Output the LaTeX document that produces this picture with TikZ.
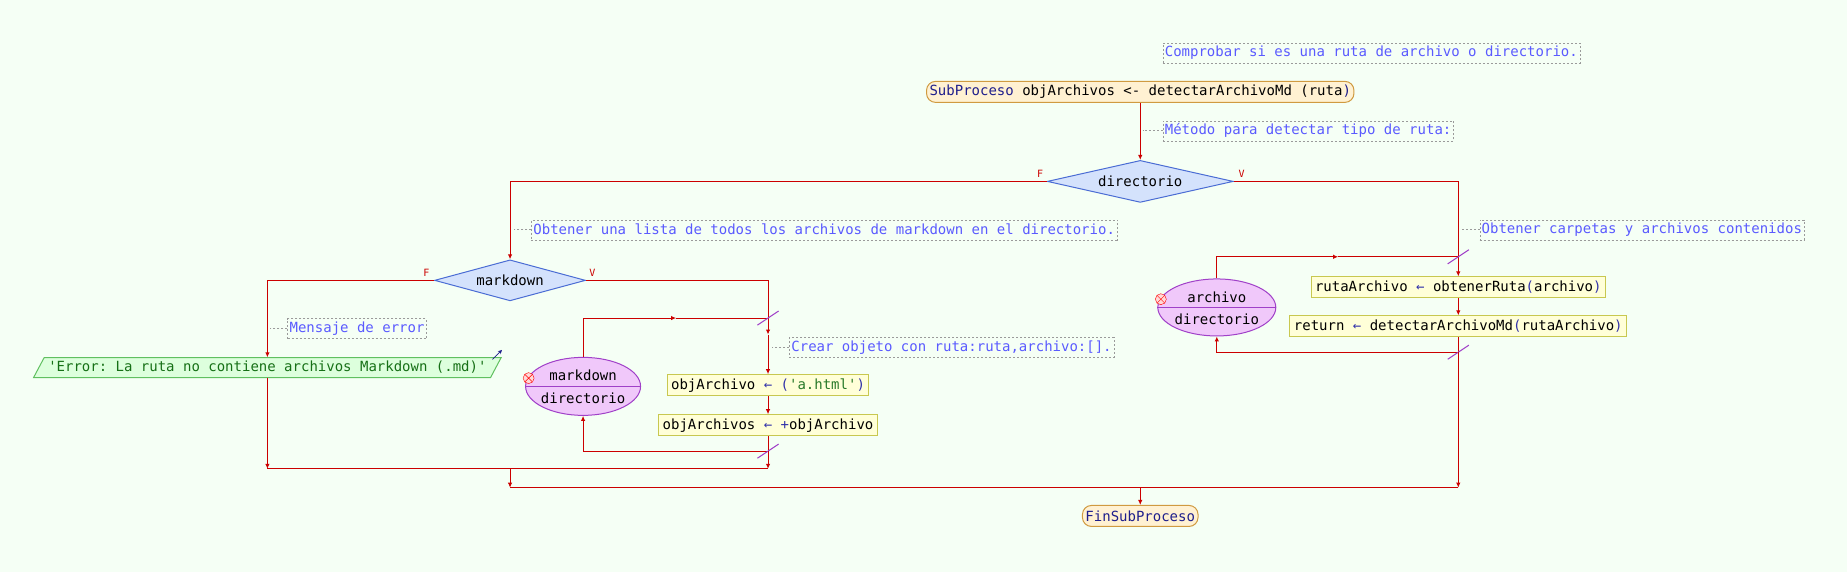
\documentclass[tikz,border=0pt]{standalone}
\usepackage{fontspec}
\setmonofont{DejaVu Sans Mono}
\usetikzlibrary{arrows.meta,shapes.geometric}

\definecolor{bgpaper}{HTML}{F5FFF5}
\definecolor{flowred}{HTML}{CC0000}
\definecolor{condfill}{HTML}{D4E2FC}
\definecolor{condline}{HTML}{4A6CD4}
\definecolor{pillfill}{HTML}{FFF1D2}
\definecolor{pillline}{HTML}{D09A40}
\definecolor{procfill}{HTML}{FFFFD8}
\definecolor{procline}{HTML}{C8C850}
\definecolor{loopfill}{HTML}{F0C8FA}
\definecolor{loopline}{HTML}{A040C8}
\definecolor{notetext}{HTML}{5A5AFF}
\definecolor{notegray}{HTML}{9A9A9A}
\definecolor{outfill}{HTML}{DDFFDD}
\definecolor{outline}{HTML}{60C060}
\definecolor{outtext}{HTML}{167016}
\definecolor{kwblue}{HTML}{1E1E8C}
\definecolor{opblue}{HTML}{3333AA}
\definecolor{strgreen}{HTML}{2A7A2A}

\newcommand{\kw}[1]{\textcolor{kwblue}{#1}}
\newcommand{\op}[1]{\textcolor{opblue}{#1}}

\begin{document}
\begin{tikzpicture}[x=1.178pt, y=-1.178pt,
  font=\ttfamily\fontsize{14}{16}\selectfont,
  flow/.style={draw=flowred, line width=1pt},
  arr/.style={flow, -{Latex[length=5pt,width=4.5pt]}},
  pill/.style={draw=pillline, fill=pillfill, rounded corners=9pt, line width=1pt,
    inner xsep=3pt, inner ysep=0pt, minimum height=21pt},
  proc/.style={draw=procline, fill=procfill, line width=1pt,
    inner xsep=4pt, inner ysep=0pt, minimum height=21pt},
  cond/.style={diamond, draw=condline, fill=condfill, line width=1pt, inner sep=0pt},
  note/.style={draw=notegray, dash pattern=on 2pt off 2pt, text=notetext, anchor=west,
    inner xsep=2pt, inner ysep=0pt, minimum height=20pt},
  noteline/.style={draw=notegray, dash pattern=on 2pt off 2pt, line width=0.8pt},
  loopnode/.style={ellipse, draw=loopline, fill=loopfill, line width=1pt, inner sep=0pt},
  looptext/.style={inner sep=0pt},
  seam/.style={draw=loopline, line width=1pt},
  tag/.style={text=flowred, font=\ttfamily\fontsize{10}{10}\selectfont, inner sep=0pt},
  xmark/.style={circle, draw=red, fill=red!15, minimum size=11pt, inner sep=0pt,
    path picture={\draw[red] (path picture bounding box.north west) -- (path picture bounding box.south east)
      (path picture bounding box.south west) -- (path picture bounding box.north east);}}
]

% background
\fill[bgpaper] (0,0) rectangle (1568,486);
\useasboundingbox (0,0) rectangle (1568,486);

% ==== top: start and first decision ====
\node[note] (c1) at (987,45) {Comprobar si es una ruta de archivo o directorio.};
\node[pill] (start) at (968,78) {\kw{SubProceso} objArchivos <- detectarArchivoMd (ruta\kw{)}};
\node[note] (c2) at (987,111) {Método para detectar tipo de ruta:};
\node[cond, minimum width=186pt, minimum height=42pt, aspect=4.4] (dir) at (968,154) {directorio};
\node[tag] (dirF) at (883,148) {F};
\node[tag] (dirV) at (1054,148) {V};

\draw[noteline] (c2.west) -- ++(-17,0);
\draw[arr] (start) -- (dir);

% ==== F branch: markdown decision ====
\node[note] (c3) at (451,195) {Obtener una lista de todos los archivos de markdown en el directorio.};
\node[cond, minimum width=151pt, minimum height=41pt, aspect=3.7] (md) at (433,238) {markdown};
\node[tag] (mdF) at (362,232) {F};
\node[tag] (mdV) at (503,232) {V};
\node[note] (c5) at (244,279) {Mensaje de error};
% output: slanted box, text on top
\node[draw=outline, fill=outfill, line width=1pt, xslant=0.53, transform shape,
      minimum width=457pt, minimum height=20pt, inner sep=0pt] (outbox) at (227,312) {};
\node[text=outtext, inner sep=0pt, minimum height=20pt] (out) at (227,312)
  {'Error: La ruta no contiene archivos Markdown (.md)'};
\draw[-{Stealth[length=4pt,width=4pt]}, kwblue, line width=0.8pt]
  ([shift={(-8,2)}]outbox.north east) -- ++(8,-8);

\draw[arr] (dir.west) -| (md.north);
\draw[noteline] (c3.west) -- ++(-15,0);
\draw[arr] (md.west) -| (out.north);
\draw[noteline] (c5.west) -- ++(-15,0);

% loop over markdown files
\node[loopnode, minimum width=115pt, minimum height=58pt] (L1) at (495,328) {};
\draw[seam] (L1.west) -- (L1.east);
\node[looptext] (L1a) at ([shift={(0,-9)}]L1.center) {markdown};
\node[looptext] (L1b) at ([shift={(0,10)}]L1.center) {directorio};
\node[xmark] (L1x) at ([shift={(3,-7)}]L1.west) {};
\node[note] (c6) at (670,295) {Crear objeto con ruta:ruta,archivo:[].};
\node[proc] (p1) at (652,327) {objArchivo \op{←} \op{(}\textcolor{strgreen}{'a.html'}\op{)}};
\node[proc] (p2) at (652,361) {objArchivos \op{← +}objArchivo};

\coordinate (m1) at (574,270);
\coordinate (s1top) at (652,270);
\coordinate (k1) at (652,284);
\coordinate (s1bot) at (652,383);

\draw[arr] (md.east) -| (k1);
\draw[arr] (k1) -- (p1);
\draw[noteline] (c6.west) -- ++(-15,0);
\draw[arr] (p1) -- (p2);
\draw[arr] (L1.north) |- (m1);
\draw[flow] (m1) -- (s1top);
\draw[arr] (p2.south) -- (s1bot) -| (L1.south);
\draw[seam, shift={(s1top)}] (-9,6) -- (9,-6);
\draw[seam, shift={(s1bot)}] (-9,6) -- (9,-6);

% join of markdown decision
\coordinate (j1l) at (227,398);
\coordinate (j1m) at (433,398);
\coordinate (j1r) at (652,398);
\draw[arr] (out.south) -- (j1l);
\draw[arr] (s1bot) -- (j1r);
\draw[flow] (j1l) -- (j1r);

% ==== V branch: loop over directory ====
\node[note] (c4) at (1256,195) {Obtener carpetas y archivos contenidos};
\node[loopnode, minimum width=118pt, minimum height=57pt] (L2) at (1033,261) {};
\draw[seam] (L2.west) -- (L2.east);
\node[looptext] (L2a) at ([shift={(0,-9)}]L2.center) {archivo};
\node[looptext] (L2b) at ([shift={(0,10)}]L2.center) {directorio};
\node[xmark] (L2x) at ([shift={(3,-7)}]L2.west) {};
\node[proc] (p3) at (1238,244) {rutaArchivo \op{←} obtenerRuta\op{(}archivo\op{)}};
\node[proc] (p4) at (1238,277) {return \op{←} detectarArchivoMd\op{(}rutaArchivo\op{)}};

\coordinate (m2) at (1136,218);
\coordinate (s2top) at (1238,218);
\coordinate (s2bot) at (1238,299);

\draw[arr] (dir.east) -| (p3.north);
\draw[noteline] (c4.west) -- ++(-15,0);
\draw[arr] (p3) -- (p4);
\draw[arr] (L2.north) |- (m2);
\draw[flow] (m2) -- (s2top);
\draw[arr] (p4.south) -- (s2bot) -| (L2.south);
\draw[seam, shift={(s2top)}] (-9,6) -- (9,-6);
\draw[seam, shift={(s2bot)}] (-9,6) -- (9,-6);

% ==== final join and end ====
\coordinate (j2l) at (433,414);
\coordinate (j2m) at (968,414);
\coordinate (j2r) at (1238,414);
\node[pill] (fin) at (968,438) {\kw{FinSubProceso}};

\draw[arr] (j1m) -- (j2l);
\draw[arr] (s2bot) -- (j2r);
\draw[flow] (j2l) -- (j2r);
\draw[arr] (j2m) -- (fin);

\end{tikzpicture}
\end{document}
